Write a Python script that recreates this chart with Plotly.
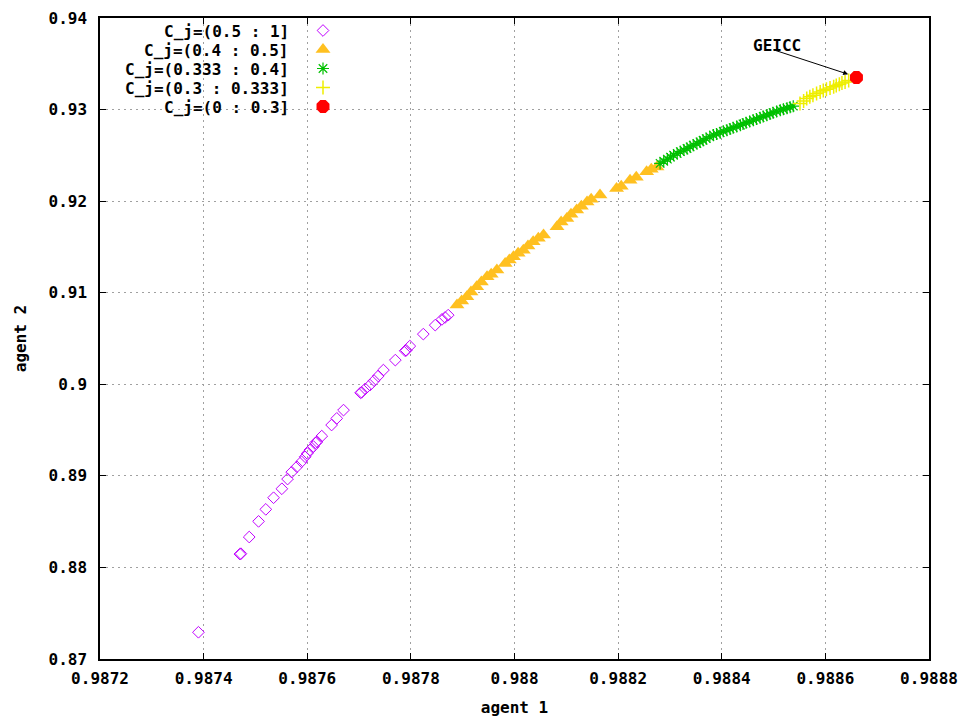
import plotly.graph_objects as go

# ---- data ----
purple_x = [0.98739, 0.98747, 0.987472, 0.987488, 0.987506, 0.987520, 0.987535, 0.987551,
            0.987562, 0.987570, 0.987580, 0.987589, 0.987596, 0.987605, 0.987616, 0.987619,
            0.987628, 0.987647, 0.987657, 0.987670, 0.987703, 0.987705, 0.987721, 0.987737,
            0.987747, 0.987770, 0.987789, 0.987791, 0.987798, 0.987824, 0.987847, 0.987860,
            0.987872, 0.987866, 0.987600, 0.987612, 0.987712, 0.987729]
purple_y = [0.87292, 0.88146, 0.88150, 0.88332, 0.88503, 0.88634, 0.88761, 0.88859,
            0.88965, 0.89041, 0.89099, 0.89154, 0.89208, 0.89282, 0.89361, 0.89372,
            0.89434, 0.89555, 0.89628, 0.89718, 0.89907, 0.89912, 0.89991, 0.90090,
            0.90155, 0.90264, 0.90366, 0.90370, 0.90417, 0.90548, 0.90646, 0.90709,
            0.90755, 0.90730, 0.89245, 0.89320, 0.89950, 0.90040]

orange_x = [0.987889, 0.987898, 0.987908, 0.987916, 0.987927, 0.987936, 0.987947, 0.987955,
            0.987966, 0.987982, 0.987990, 0.987998, 0.988007, 0.988017, 0.988026, 0.988036,
            0.988046, 0.988056, 0.988082, 0.988090, 0.988101, 0.988109, 0.988120, 0.988129,
            0.988140, 0.988148, 0.988165, 0.988197, 0.988206, 0.988223, 0.988235, 0.988255,
            0.988264, 0.988275]
orange_y = [0.90865, 0.90910, 0.90955, 0.91007, 0.91064, 0.91116, 0.91174, 0.91203,
            0.91247, 0.91320, 0.91356, 0.91392, 0.91432, 0.91465, 0.91509, 0.91556,
            0.91596, 0.91629, 0.91719, 0.91771, 0.91811, 0.91858, 0.91902, 0.91945,
            0.91992, 0.92022, 0.92066, 0.92139, 0.92164, 0.92229, 0.92262, 0.92320,
            0.92349, 0.92374]

green_x = [0.988281, 0.988288, 0.988295, 0.988301, 0.988307, 0.988314, 0.988320, 0.988327,
           0.988333, 0.988339, 0.988345, 0.988352, 0.988358, 0.988364, 0.988370, 0.988377,
           0.988384, 0.988390, 0.988397, 0.988403, 0.988410, 0.988416, 0.988422, 0.988429,
           0.988436, 0.988441, 0.988447, 0.988454, 0.988461, 0.988467, 0.988474, 0.988480,
           0.988487, 0.988493, 0.988499, 0.988506, 0.988513, 0.988519, 0.988526, 0.988532,
           0.988538]
green_y = [0.92412, 0.92436, 0.92459, 0.92481, 0.92502, 0.92521, 0.92540, 0.92558,
           0.92575, 0.92593, 0.92611, 0.92629, 0.92647, 0.92665, 0.92682, 0.92702,
           0.92721, 0.92734, 0.92748, 0.92762, 0.92775, 0.92789, 0.92802, 0.92816,
           0.92830, 0.92843, 0.92857, 0.92870, 0.92884, 0.92898, 0.92912, 0.92925,
           0.92939, 0.92952, 0.92966, 0.92980, 0.92993, 0.93004, 0.93015, 0.93026,
           0.93037]

yellow_x = [0.988551, 0.988558, 0.988564, 0.988570, 0.988576, 0.988583, 0.988590, 0.988596,
            0.988602, 0.988609, 0.988616, 0.988621, 0.988627, 0.988632, 0.988638, 0.988645]
yellow_y = [0.93067, 0.93094, 0.93121, 0.93139, 0.93157, 0.93175, 0.93193, 0.93208,
            0.93223, 0.93236, 0.93248, 0.93262, 0.93277, 0.93290, 0.93302, 0.93318]

red_x = [0.98866]
red_y = [0.9335]

series_names = ["C_j=(0.5 : 1]", "C_j=(0.4 : 0.5]", "C_j=(0.333 : 0.4]",
                "C_j=(0.3 : 0.333]", "C_j=(0 : 0.3]"]

x_ticks = [0.9872, 0.9874, 0.9876, 0.9878, 0.9880, 0.9882, 0.9884, 0.9886, 0.9888]
x_tick_labels = ["0.9872", "0.9874", "0.9876", "0.9878", "0.988", "0.9882", "0.9884", "0.9886", "0.9888"]
y_ticks = [0.87, 0.88, 0.89, 0.90, 0.91, 0.92, 0.93, 0.94]
y_tick_labels = ["0.87", "0.88", "0.89", "0.9", "0.91", "0.92", "0.93", "0.94"]

# ---- styling ----
FONT = "DejaVu Sans Mono"
FS = 16
colors = ["#c000ff", "#ffc020", "#00c000", "#eeee00", "#ff0000"]

fig = go.Figure()
fig.add_trace(go.Scatter(x=purple_x, y=purple_y, mode="markers", name=" ",
                         marker=dict(symbol="diamond-open", size=9, color=colors[0],
                                     line=dict(width=1, color=colors[0]))))
fig.add_trace(go.Scatter(x=orange_x, y=orange_y, mode="markers", name=" ",
                         marker=dict(symbol="triangle-up", size=13, color=colors[1],
                                     line=dict(width=0))))
fig.add_trace(go.Scatter(x=green_x, y=green_y, mode="markers", name=" ",
                         marker=dict(symbol="asterisk-open", size=10, color=colors[2],
                                     line=dict(width=1.2, color=colors[2]))))
fig.add_trace(go.Scatter(x=yellow_x, y=yellow_y, mode="markers", name=" ",
                         marker=dict(symbol="cross-thin-open", size=10, color=colors[3],
                                     line=dict(width=1.5, color=colors[3]))))
fig.add_trace(go.Scatter(x=red_x, y=red_y, mode="markers", name=" ",
                         marker=dict(symbol="octagon", size=14, color=colors[4],
                                     line=dict(width=0))))

# legend labels (right-aligned text, symbols drawn by legend to the right)
row_y_px = [32, 50, 69, 88, 107]
annotations = []
for name, py in zip(series_names, row_y_px):
    annotations.append(dict(text=name, xref="paper", yref="paper",
                            x=(291 - 100) / 829, y=(659 - py) / 641,
                            xanchor="right", yanchor="middle", showarrow=False,
                            font=dict(family=FONT, size=FS, color="black", weight="bold")))

# GEICC label and arrow
annotations.append(dict(text="GEICC", x=0.988506, y=0.93703, xref="x", yref="y",
                        showarrow=False, font=dict(family=FONT, size=FS, color="black", weight="bold")))
annotations.append(dict(text="", x=0.988644, y=0.93386, ax=0.988497, ay=0.93658,
                        xref="x", yref="y", axref="x", ayref="y", showarrow=True,
                        arrowhead=2, arrowsize=1, arrowwidth=1, arrowcolor="black"))

axis_common = dict(showline=True, linecolor="black", linewidth=1.5, mirror="ticks",
                   ticks="inside", ticklen=6, tickcolor="black", tickwidth=1,
                   showgrid=True, gridcolor="#a0a0a0", gridwidth=1, griddash="2px,4px",
                   zeroline=False,
                   tickfont=dict(family=FONT, size=FS, color="black", weight="bold"))

fig.update_layout(
    width=961, height=717,
    margin=dict(l=100, r=32, t=18, b=58, autoexpand=False),
    paper_bgcolor="white", plot_bgcolor="white",
    xaxis=dict(range=[0.9872, 0.9888], tickvals=x_ticks, ticktext=x_tick_labels,
               ticklabelstandoff=4,
               title=dict(text="agent 1", standoff=16,
                          font=dict(family=FONT, size=FS, color="black", weight="bold")),
               **axis_common),
    yaxis=dict(range=[0.87, 0.94], tickvals=y_ticks, ticktext=y_tick_labels,
               ticklabelstandoff=8,
               title=dict(text="agent 2", standoff=18,
                          font=dict(family=FONT, size=FS, color="black", weight="bold")),
               **axis_common),
    showlegend=True,
    legend=dict(x=(325 - 100 - 22) / 829, y=(659 - 16) / 641, xanchor="left", yanchor="top",
                bgcolor="rgba(0,0,0,0)", borderwidth=0,
                font=dict(family=FONT, size=12), itemwidth=30, tracegroupgap=0),
    annotations=annotations,
)

fig.write_html("out.html", config={"displayModeBar": False},
               post_script="document.body.style.margin='0px';")
